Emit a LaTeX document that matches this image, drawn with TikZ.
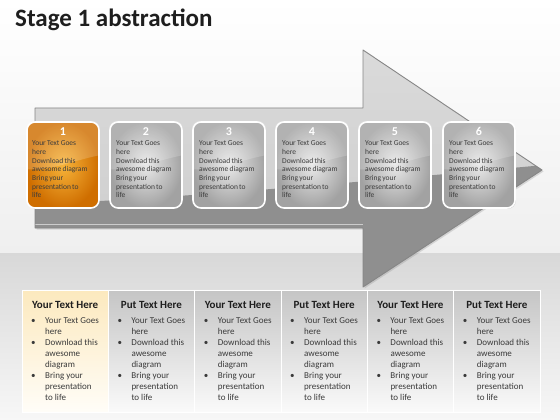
\documentclass[tikz,border=0pt]{standalone}
\usepackage{fontspec}
\setmainfont{Carlito}
\usetikzlibrary{shadows}
\definecolor{bgmid}{HTML}{EFEFEF}
\definecolor{bandtop}{HTML}{D8D8D8}
\definecolor{bandbot}{HTML}{F7F7F7}
\definecolor{arrowlight}{HTML}{CCCCCC}
\definecolor{arrowlighttop}{HTML}{DADADA}
\definecolor{arrowdark}{HTML}{8F8F8F}
\definecolor{arrowedge}{HTML}{868686}
\definecolor{orangein}{HTML}{F7B43A}
\definecolor{orangeout}{HTML}{CF6E00}
\definecolor{greyin}{HTML}{E9E9E9}
\definecolor{greyout}{HTML}{A2A2A2}
\definecolor{boxtxt}{HTML}{3C3C3C}
\definecolor{hdrtxt}{HTML}{1E1E1E}
\definecolor{bodytxt}{HTML}{3A3A3A}
\definecolor{creamtop}{HTML}{FCE9BE}
\definecolor{creambot}{HTML}{FFFDF8}
\definecolor{coltop}{HTML}{C5C5C5}
\definecolor{colbot}{HTML}{FAFAFA}
\newcommand{\boxlines}{\spaceskip=1.3pt plus 0.2pt\relax\begin{tabular}{@{}l@{}}Your Text Goes\\here\\Download this\\awesome diagram\\Bring your\\presentation to\\life\end{tabular}}
\newcommand{\collines}{\begin{tabular}{@{}p{14pt}@{}l@{}}\textbullet & Your Text Goes\\ & here\\ \textbullet & Download this\\ & awesome\\ & diagram\\ \textbullet & Bring your\\ & presentation\\ & to life\end{tabular}}
\begin{document}
\begin{tikzpicture}[x=1pt,y=-1pt,
  stagebox/.style={rounded corners=8pt, draw=white, line width=1.6pt,
    minimum width=72pt, minimum height=86pt, inner sep=0pt,
    drop shadow={opacity=0.35, shadow xshift=0.8pt, shadow yshift=-0.8pt}},
  orangebox/.style={stagebox, inner color=orangein, outer color=orangeout},
  greybox/.style={stagebox, inner color=greyin, outer color=greyout},
  numtxt/.style={anchor=base, inner sep=0pt, text=white, font=\fontsize{12}{12}\selectfont\bfseries},
  boxtext/.style={anchor=north west, inner sep=0pt, text=boxtxt,
    font=\fontsize{7.5}{8.7}\selectfont},
  colbox/.style={minimum width=86.33pt, minimum height=122pt, inner sep=0pt, draw=white, line width=0.8pt},
  greycol/.style={colbox, top color=coltop, bottom color=colbot},
  creamcol/.style={colbox, top color=creamtop, bottom color=creambot},
  hdr/.style={anchor=base, inner sep=0pt, text=hdrtxt, font=\fontsize{11}{11}\selectfont\bfseries},
  body/.style={anchor=north west, inner sep=0pt, text=bodytxt, font=\fontsize{9}{11}\selectfont},
  gloss/.style={white, opacity=0.18}
]
\useasboundingbox (0,0) rectangle (560,420);
% background
\fill[top color=white, bottom color=bgmid] (0,0) rectangle (560,253);
\fill[top color=bandtop, bottom color=bandbot] (0,253) rectangle (560,420);
% title
\node[anchor=base west, inner sep=0pt, text=hdrtxt, font=\fontsize{25}{25}\selectfont\bfseries] (title) at (15,27) {Stage 1 abstraction};
% arrow
\path[top color=arrowlighttop, bottom color=arrowlight,
  drop shadow={opacity=0.25, shadow xshift=1.5pt, shadow yshift=-1.5pt}]
  (35,108) -- (363,108) -- (363,50) -- (542,170) -- (363,287) -- (363,228) -- (35,228) -- cycle;
\begin{scope}
  \clip (35,108) -- (363,108) -- (363,50) -- (542,170) -- (363,287) -- (363,228) -- (35,228) -- cycle;
  \fill[arrowdark] (0,206) .. controls (200,198) and (420,176) .. (545,165) -- (560,300) -- (0,300) -- cycle;
  \draw[arrowlight, line width=0.8pt] (35,224.5) -- (363,224.5);
\end{scope}
\draw[arrowedge, line width=0.9pt, line join=round]
  (35,108) -- (363,108) -- (363,50) -- (542,170) -- (363,287) -- (363,228) -- (35,228) -- cycle;
% stage boxes
\node[orangebox] (b1) at (63,165) {};
\node[greybox] (b2) at (146,165) {};
\node[greybox] (b3) at (229,165) {};
\node[greybox] (b4) at (312,165) {};
\node[greybox] (b5) at (395,165) {};
\node[greybox] (b6) at (479,165) {};
\foreach \b in {b1,b2,b3,b4,b5,b6}{
  \begin{scope}
    \clip[rounded corners=7pt] (\b.north west) rectangle (\b.south east);
    \fill[gloss] (\b.north west) -- (\b.north east) -- ([yshift=-34pt]\b.north east)
      .. controls ([xshift=-30pt,yshift=-40pt]\b.north east) and ([xshift=25pt,yshift=-50pt]\b.north west) .. ([yshift=-48pt]\b.north west) -- cycle;
  \end{scope}
}
\node[numtxt] (n1) at (63,135.5) {1};
\node[numtxt] (n2) at (146,135.5) {2};
\node[numtxt] (n3) at (229,135.5) {3};
\node[numtxt] (n4) at (312,135.5) {4};
\node[numtxt] (n5) at (395,135.5) {5};
\node[numtxt] (n6) at (479,135.5) {6};
\node[boxtext] (t1) at (32,139.4) {\boxlines};
\node[boxtext] (t2) at (116,139.4) {\boxlines};
\node[boxtext] (t3) at (199,139.4) {\boxlines};
\node[boxtext] (t4) at (282,139.4) {\boxlines};
\node[boxtext] (t5) at (365,139.4) {\boxlines};
\node[boxtext] (t6) at (449,139.4) {\boxlines};
% bottom columns
\node[creamcol] (c1) at (65.17,351) {};
\node[greycol] (c2) at (151.5,351) {};
\node[greycol] (c3) at (237.83,351) {};
\node[greycol] (c4) at (324.17,351) {};
\node[greycol] (c5) at (410.5,351) {};
\node[greycol] (c6) at (496.83,351) {};
\node[hdr] (h1) at (65.17,308) {Your Text Here};
\node[hdr] (h2) at (151.5,308) {Put Text Here};
\node[hdr] (h3) at (237.83,308) {Your Text Here};
\node[hdr] (h4) at (324.17,308) {Put Text Here};
\node[hdr] (h5) at (410.5,308) {Your Text Here};
\node[hdr] (h6) at (496.83,308) {Put Text Here};
\node[body] (l1) at (31,315.5) {\collines};
\node[body] (l2) at (117.3,315.5) {\collines};
\node[body] (l3) at (203.7,315.5) {\collines};
\node[body] (l4) at (290,315.5) {\collines};
\node[body] (l5) at (376.3,315.5) {\collines};
\node[body] (l6) at (462.7,315.5) {\collines};
\end{tikzpicture}
\end{document}
